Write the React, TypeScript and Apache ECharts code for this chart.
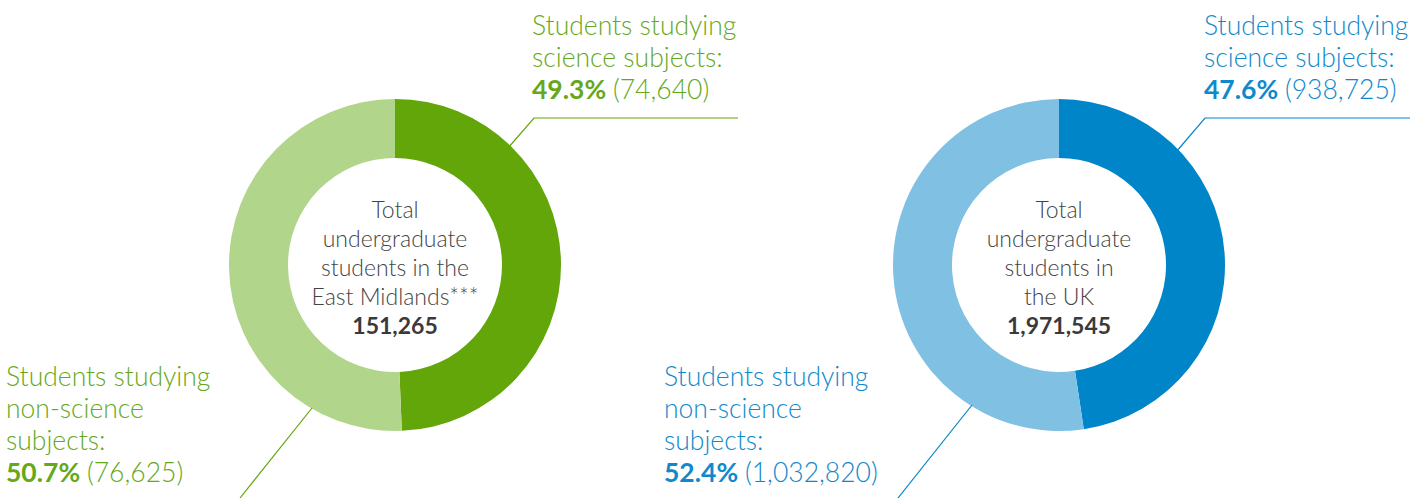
import React, { useEffect, useRef } from "react";
import * as echarts from "echarts";

const categories = ["Students studying science subjects", "Students studying non-science subjects"];
const eastMidlandsValues = [74640, 76625];
const eastMidlandsPct = ["49.3%", "50.7%"];
const ukValues = [938725, 1032820];
const ukPct = ["47.6%", "52.4%"];
const eastMidlandsTotal = "151,265";
const ukTotal = "1,971,545";
const eastMidlandsCenter = ["Total", "undergraduate", "students in the", "East Midlands***"];
const ukCenter = ["Total", "undergraduate", "students in", "the UK"];
const scienceLabelLines = ["Students studying", "science subjects:"];
const nonScienceLabelLines = ["Students studying", "non-science", "subjects:"];

const GREEN = "#62a60a";
const GREEN_LIGHT = "#b1d58a";
const GREEN_TEXT = "#65a81a";
const BLUE = "#0085c8";
const BLUE_LIGHT = "#80c1e3";
const BLUE_TEXT = "#1089cb";
const FONT = "Lato, 'Open Sans', sans-serif";
const SIDE_SIZE = 26.5;
const CENTER_SIZE = 23;

const fmt = (n: number) => n.toLocaleString("en-US");

function sideLabel(x: number, y: number, lines: string[], pct: string, val: number, color: string) {
  return {
    type: "text",
    x,
    y,
    style: {
      text: [...lines.map((l) => `{n|${l}}`), `{b|${pct}} {n|(${fmt(val)})}`].join("\n"),
      fill: color,
      font: `${SIDE_SIZE}px ${FONT}`,
      lineHeight: 32,
      align: "left",
      verticalAlign: "top",
      rich: {
        n: { fontSize: SIDE_SIZE, fontFamily: FONT, fontWeight: 300, fill: color, lineHeight: 32 },
        b: { fontSize: SIDE_SIZE, fontFamily: FONT, fontWeight: "bold", fill: color, lineHeight: 32 },
      },
    },
  };
}

function centerLabel(x: number, y: number, lines: string[], total: string) {
  return {
    type: "text",
    x,
    y,
    style: {
      text: [...lines.map((l) => `{n|${l}}`), `{b|${total}}`].join("\n"),
      fill: "#444",
      align: "center",
      verticalAlign: "top",
      lineHeight: 29,
      rich: {
        n: { fontSize: CENTER_SIZE, fontFamily: FONT, fontWeight: 300, fill: "#444", lineHeight: 29, align: "center" },
        b: { fontSize: CENTER_SIZE, fontFamily: FONT, fontWeight: "bold", fill: "#3a3a3a", lineHeight: 29, align: "center" },
      },
    },
  };
}

function leader(points: number[][], color: string) {
  return { type: "polyline", shape: { points }, style: { stroke: color, lineWidth: 1.2, fill: null }, z: 10 };
}

export default function App() {
  const ref = useRef<HTMLDivElement>(null);
  useEffect(() => {
    document.body.style.margin = "0";
    const chart = echarts.init(ref.current!, null, { renderer: "svg" });
    const pie = (center: number[], values: number[], colors: string[]) => ({
      type: "pie",
      center,
      radius: [107, 166],
      startAngle: 90,
      clockwise: true,
      silent: true,
      label: { show: false },
      labelLine: { show: false },
      itemStyle: { borderWidth: 0 },
      data: values.map((v, i) => ({ name: categories[i], value: v, itemStyle: { color: colors[i] } })),
    });
    chart.setOption({
      animation: false,
      series: [
        pie([395, 265], eastMidlandsValues, [GREEN, GREEN_LIGHT]),
        pie([1059, 265], ukValues, [BLUE, BLUE_LIGHT]),
      ],
      graphic: [
        leader([[508, 148], [534, 118], [738, 118]], GREEN),
        leader([[312, 408], [240, 498]], GREEN),
        leader([[1176, 152], [1205, 118], [1410, 118]], BLUE),
        leader([[972, 405], [898, 498]], BLUE),
        sideLabel(532, 9, scienceLabelLines, eastMidlandsPct[0], eastMidlandsValues[0], GREEN_TEXT),
        sideLabel(6, 360, nonScienceLabelLines, eastMidlandsPct[1], eastMidlandsValues[1], GREEN_TEXT),
        sideLabel(1204, 9, scienceLabelLines, ukPct[0], ukValues[0], BLUE_TEXT),
        sideLabel(664, 360, nonScienceLabelLines, ukPct[1], ukValues[1], BLUE_TEXT),
        centerLabel(395, 194, eastMidlandsCenter, eastMidlandsTotal),
        centerLabel(1059, 194, ukCenter, ukTotal),
      ],
    });
    return () => chart.dispose();
  }, []);
  return <div ref={ref} style={{ width: 1427, height: 498 }} />;
}
